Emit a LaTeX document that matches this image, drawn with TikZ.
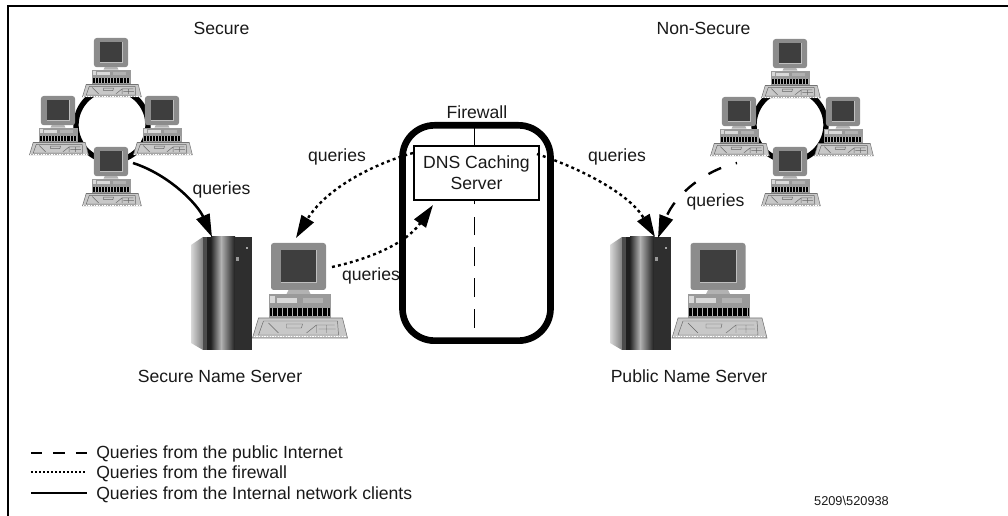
\documentclass[tikz,border=0pt]{standalone}
\usepackage{fontspec}
\setmainfont{Liberation Sans}
\usetikzlibrary{arrows.meta}
\definecolor{monbody}{HTML}{8C8C8C}
\definecolor{monscreen}{HTML}{3E3E3E}
\definecolor{unitbody}{HTML}{9A9A9A}
\definecolor{kbd}{HTML}{C8C8C8}
\tikzset{
  x=0.75pt,y=-0.75pt,
  lbl/.style={inner sep=0pt,font=\fontsize{13.2pt}{15pt}\selectfont,text=black!90},
  tipbig/.style={-{Triangle[length=17pt,width=10.5pt]}},
  solidq/.style={line width=1.9pt,tipbig},
  dotq/.style={line width=1.8pt,dash pattern=on 2.2pt off 2.4pt,tipbig},
  dashq/.style={line width=1.8pt,dash pattern=on 10.5pt off 11.5pt,dash phase=9.5pt,tipbig},
  computer/.pic={
    % monitor
    \fill[monbody,rounded corners=2pt] (-27.5,0) rectangle (27.5,47);
    \fill[monscreen] (-18,7) rectangle (18,39);
    \draw[white!75!black,line width=.5pt] (-18,39) -- (18,39) -- (18,7);
    \fill[black!30] (-10,47) -- (10,47) -- (12,51) -- (-12,51) -- cycle;
    % system unit
    \fill[unitbody] (-30,51) rectangle (32,75);
    \fill[black!15] (-22,55) rectangle (-2,60);
    \fill[black!30] (4,55) rectangle (24,60);
    \fill[black!15] (-29,53) rectangle (-24,60);
    \fill[black] (-29,65) rectangle (31,73);
    \foreach \k in {-26,-21,...,29}{\draw[white!70!black,line width=.35pt] (\k,65) -- (\k,73);}
    % keyboard
    \fill[kbd,draw=black!55,line width=.4pt] (-40,75) -- (44,75) -- (49,95) -- (-46,95) -- cycle;
    \draw[black!60,line width=.35pt] (-35,78) -- (-40,92) -- (40,92) -- (39,78) -- cycle;
    \draw[black!60,line width=.35pt] (-30,80) -- (-20,90) (-12,81) -- (4,81) -- (3,85) -- (-12,85) -- cycle (8,90) -- (18,82) -- (36,82) (18,82) -- (18,90) (28,82) -- (28,90) (20,86) -- (37,86);
    \draw[white,line width=.5pt,dash pattern=on 1pt off 1pt] (-45,93.5) -- (48,93.5);
  },
  tower/.pic={
    \shade[left color=black!15,right color=black!50] (0,8) -- (12,0) -- (12,113) -- (0,106) -- cycle;
    \fill[black!70] (12,0) rectangle (16,113);
    \fill[black!88] (16,0) rectangle (20,113);
    \shade[left color=black!85,right color=black!30] (20,0) rectangle (30,113);
    \shade[left color=black!30,right color=black!88] (30,0) rectangle (44,113);
    \fill[black!82] (44,0) rectangle (61,113);
    \fill[black!35] (55,10) rectangle (57,12);
    \fill[black!40] (45,20) rectangle (48,24);
  },
}
\begin{document}
\begin{tikzpicture}
\useasboundingbox (0,0) rectangle (1008,516);
% frame
\coordinate (fa) at (8,516); \coordinate (fb) at (8,6); \coordinate (fc) at (1008,6);
\draw[line width=1.1pt] (fa) -- (fb) -- (fc);
% rings
\node[circle,draw,line width=4pt,inner sep=0pt,minimum size=54pt] (ringL) at (112,125) {};
\node[circle,draw,line width=4pt,inner sep=0pt,minimum size=54pt] (ringR) at (790,125) {};
% workstations
\foreach \n/\x/\y in {a/111/38,b/58/96,c/162/96,d/111/147,e/790/39,f/739/97,g/843/97,h/790/147}{
  \pic (pc\n) [scale=.62] at (\x,\y) {computer};
}
\pic (srvL) at (298.5,243) {computer};
\pic (srvR) at (718,243) {computer};
\pic (towL) at (191,237) {tower};
\pic (towR) at (610,237) {tower};
% firewall
\node[draw,line width=5pt,rounded corners=24pt,minimum width=111pt,minimum height=161.5pt,inner sep=0pt] (fw) at (476.5,233) {};
\coordinate (vtop) at (474,128);
\coordinate (vbot) at (474,328);
\coordinate (vmid) at (474,201);
\draw[line width=.7pt] (vtop) -- (474,146);
\draw[line width=.7pt,dash pattern=on 14pt off 9.2pt] (vbot) -- (vmid);
\node[draw,fill=white,line width=1.7pt,minimum width=94pt,minimum height=40pt,inner sep=0pt,align=center,lbl] (dns) at (476.5,173) {DNS Caching\\[1pt]Server};
% connector ends
\coordinate (s1) at (133,163); \coordinate (t1) at (212,237);
\coordinate (s2) at (413,153); \coordinate (t2) at (296,238);
\coordinate (s3) at (332,267); \coordinate (t3) at (433,205);
\coordinate (s4) at (537,154); \coordinate (t4) at (655,237);
\coordinate (s5) at (737,163); \coordinate (t5) at (658,238);
\draw[solidq] (s1) .. controls (170,175) and (198,205) .. (t1);
\draw[dotq] (s2) .. controls (370,165) and (325,190) .. (t2);
\draw[dotq] (s3) .. controls (365,260) and (405,245) .. (t3);
\draw[dotq] (s4) .. controls (585,170) and (630,195) .. (t4);
\draw[dashq] (s5) .. controls (705,170) and (675,195) .. (t5);
% labels
\node[lbl] (lsec) at (221.5,28) {Secure};
\node[lbl] (lnon) at (703.5,28) {Non-Secure};
\node[lbl] (lfw) at (477,112) {Firewall};
\node[lbl] (q1) at (221.5,190) {queries};
\node[lbl] (q2) at (337,157) {queries};
\node[lbl] (q3) at (371,276) {queries};
\node[lbl] (q4) at (617,157) {queries};
\node[lbl] (q5) at (715.5,202) {queries};
\node[lbl] (lsn) at (220,376) {Secure Name Server};
\node[lbl] (lpn) at (689,376) {Public Name Server};
% legend
\coordinate (la1) at (31,453); \coordinate (la2) at (87,453);
\coordinate (lb1) at (31,472); \coordinate (lb2) at (87,472);
\coordinate (lc1) at (31,493); \coordinate (lc2) at (87,493);
\draw[line width=1.4pt,dash pattern=on 8.5pt off 8.3pt] (la1) -- (la2);
\draw[line width=1.1pt,dash pattern=on 1.5pt off 1.5pt] (lb1) -- (lb2);
\draw[line width=1.4pt] (lc1) -- (lc2);
\node[lbl,anchor=west] (ta) at (96,454) {Queries from the public Internet};
\node[lbl,anchor=west] (tb) at (96,474) {Queries from the firewall};
\node[lbl,anchor=west] (tc) at (96,495) {Queries from the Internal network clients};
\node[lbl,font=\fontsize{9.6pt}{11pt}\selectfont] (fig) at (851.5,501) {5209\textbackslash 520938};
\end{tikzpicture}
\end{document}
